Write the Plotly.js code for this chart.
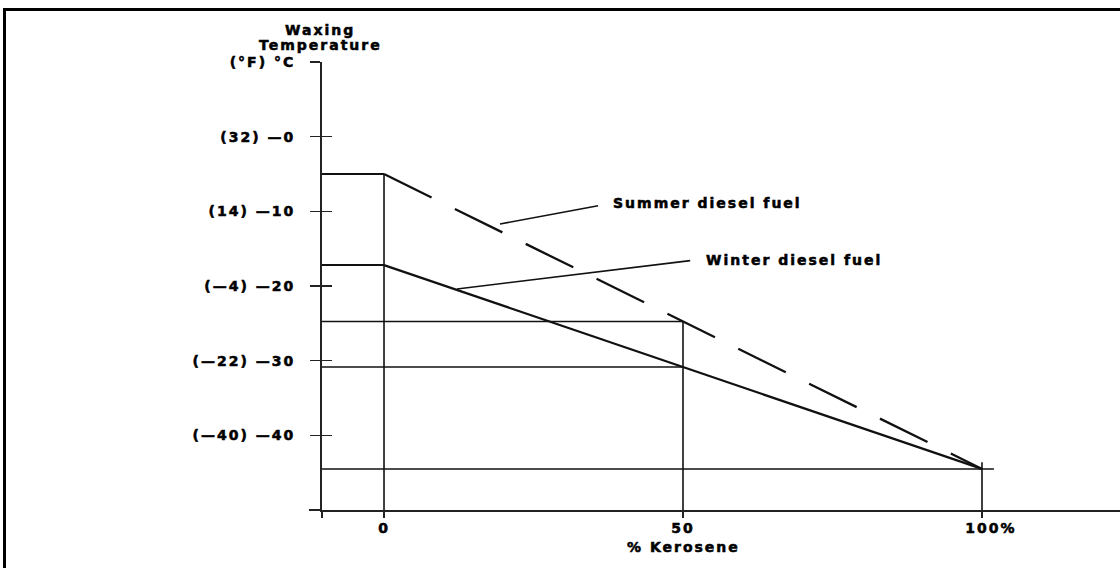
<!DOCTYPE html>
<html>
<head>
<meta charset="utf-8">
<script src="https://cdn.plot.ly/plotly-3.0.1.min.js"></script>
<style>
  html, body { margin: 0; padding: 0; background: #fff; }
  #wrap { position: relative; width: 1120px; height: 568px; overflow: hidden; }
  #chart { position: absolute; left: 0; top: 0; width: 1120px; height: 568px; }
  #frame { position: absolute; left: 3px; top: 8px; width: 1117px; height: 560px;
           border-top: 3px solid #000; border-left: 3px solid #000; box-sizing: border-box; pointer-events: none; }
  .main-svg text { letter-spacing: 2px; stroke: #000; stroke-width: 0.55px; }
</style>
</head>
<body>
<div id="wrap"><div id="chart"></div><div id="frame"></div></div>
<script>
// ---- data ----
const kerosenePct   = [0, 100];          // % kerosene blended in
const summerWaxC    = [-5, -44.5];       // summer diesel fuel waxing temperature (°C)
const winterWaxC    = [-17.2, -44.5];    // winter diesel fuel waxing temperature (°C)
const readoutPct    = 50;                // example blend
const summerAt50    = -24.75;            // summer fuel at 50 % kerosene
const winterAt50    = -30.85;            // winter fuel at 50 % kerosene
const yTickVals     = [10, 0, -10, -20, -30, -40];
const yTickText     = ["(°F) °C", "(32) —0", "(14) —10", "(—4) —20", "(—22) —30", "(—40) —40"];
const xTickVals     = [0, 50, 100];
const xTickText     = ["0", "50", "\u2002\u2002100%"];

const X0 = -10.37, X1 = 123.08;  // axis range
const Y0 = -50, Y1 = 10;
const ink = '#111';
const fnt = {family: 'DejaVu Sans, Arial, sans-serif', size: 14, color: '#000', weight: 'bold'};

const traces = [
  // summer: flat segment + dashed blend line
  {x: [X0, kerosenePct[0]], y: [summerWaxC[0], summerWaxC[0]], mode: 'lines', line: {color: ink, width: 2}},
  {x: kerosenePct, y: summerWaxC, mode: 'lines', line: {color: ink, width: 2.3, dash: '53px,26px'}},
  // winter: flat segment + solid blend line
  {x: [X0, kerosenePct[0]], y: [winterWaxC[0], winterWaxC[0]], mode: 'lines', line: {color: ink, width: 2}},
  {x: kerosenePct, y: winterWaxC, mode: 'lines', line: {color: ink, width: 2.3}},
  // vertical reading lines
  {x: [kerosenePct[0], kerosenePct[0]], y: [summerWaxC[0], Y0], mode: 'lines', line: {color: ink, width: 1.6}},
  {x: [readoutPct, readoutPct], y: [summerAt50, Y0], mode: 'lines', line: {color: ink, width: 1.6}},
  {x: [kerosenePct[1], kerosenePct[1]], y: [summerWaxC[1] + 0.9, Y0], mode: 'lines', line: {color: ink, width: 1.6}},
  // horizontal reading lines
  {x: [X0, readoutPct], y: [summerAt50, summerAt50], mode: 'lines', line: {color: ink, width: 1.6}},
  {x: [X0, readoutPct], y: [winterAt50, winterAt50], mode: 'lines', line: {color: ink, width: 1.6}, yaxis: 'y2'},
  {x: [X0, kerosenePct[1] + 2], y: [summerWaxC[1], summerWaxC[1]], mode: 'lines', line: {color: ink, width: 1.6}},
  // leader lines to labels
  {x: [19.4, 35.8], y: [-11.7, -9.26], mode: 'lines', line: {color: ink, width: 1.6}},
  {x: [12.2, 51.2], y: [-20.4, -16.6], mode: 'lines', line: {color: ink, width: 1.6}}
];

const layout = {
  width: 1120, height: 568,
  margin: {l: 322, r: 0, t: 62, b: 58, pad: 0},
  paper_bgcolor: '#fff', plot_bgcolor: '#fff',
  showlegend: false,
  font: fnt,
  xaxis: {
    range: [X0, X1], showgrid: false, zeroline: false,
    showline: true, linecolor: '#222', linewidth: 2,
    ticks: 'outside', ticklen: 6, tickwidth: 1.5, tickcolor: '#222',
    tickvals: [X0].concat(xTickVals), ticktext: [''].concat(xTickText),
    tickfont: fnt, ticklabelstandoff: -2
  },
  yaxis: {
    range: [Y0, Y1], showgrid: false, zeroline: false,
    showline: true, linecolor: '#222', linewidth: 2,
    ticks: 'outside', ticklen: 10, tickwidth: 1.5, tickcolor: '#222',
    tickvals: yTickVals, ticktext: yTickText, tickfont: fnt, ticklabelstandoff: 12
  },
  yaxis2: {
    range: [Y0, Y1], overlaying: 'y', side: 'left', anchor: 'x',
    showgrid: false, zeroline: false, showline: false,
    ticks: 'inside', ticklen: 10, tickwidth: 1.5, tickcolor: '#222',
    tickvals: yTickVals, showticklabels: false
  },
  shapes: [
    {type: 'line', xref: 'paper', yref: 'paper', x0: -0.0163, x1: 0, y0: 0, y1: 0, line: {color: '#222', width: 2}}
  ],
  annotations: [
    {text: 'Waxing', xref: 'paper', yref: 'paper', x: -0.0025, y: 1.0714, xanchor: 'center', yanchor: 'middle', showarrow: false, font: fnt},
    {text: 'Temperature', xref: 'paper', yref: 'paper', x: -0.0025, y: 1.0379, xanchor: 'center', yanchor: 'middle', showarrow: false, font: fnt},
    {text: '% Kerosene', xref: 'x', yref: 'paper', x: readoutPct, y: -0.0826, xanchor: 'center', yanchor: 'middle', showarrow: false, font: fnt},
    {text: 'Summer diesel fuel', xref: 'x', yref: 'y', x: 38.1, y: -8.86, xanchor: 'left', yanchor: 'middle', xshift: 17, showarrow: false, font: fnt},
    {text: 'Winter diesel fuel', xref: 'x', yref: 'y', x: 53.7, y: -16.5, xanchor: 'left', yanchor: 'middle', xshift: 17, showarrow: false, font: fnt}
  ]
};

Plotly.newPlot('chart', traces, layout, {staticPlot: true, displayModeBar: false});
</script>
</body>
</html>
